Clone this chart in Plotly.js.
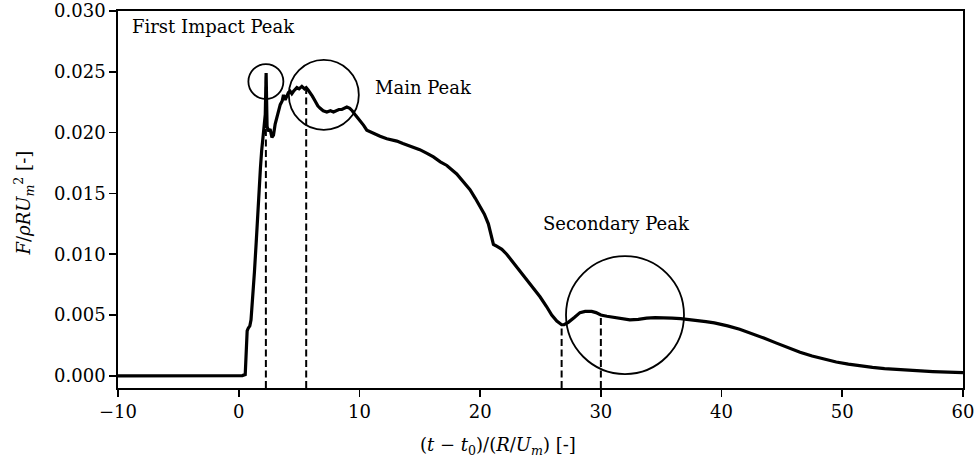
<!DOCTYPE html>
<html>
<head>
<meta charset="utf-8">
<script src="https://cdn.plot.ly/plotly-3.0.1.min.js"></script>
<style>
  html, body { margin: 0; padding: 0; background: #ffffff; }
  #chart { width: 979px; height: 462px; }
</style>
</head>
<body>
<div id="chart"></div>
<script>
// Non-dimensional time (t - t0)/(R/Um)
const time = [
  -10, 0.30, 0.54, 0.62, 0.70, 0.78, 0.92, 1.02, 1.15, 1.30, 1.45, 1.60, 1.72, 1.80, 1.90, 2.00, 2.12, 2.20,
  2.27, 2.31, 2.35, 2.47, 2.60, 2.75, 2.88, 3.02, 3.15, 3.30, 3.44, 3.60, 3.71, 3.85, 3.99, 4.12, 4.26,
  4.40, 4.54, 4.68, 4.82, 5.00, 5.23, 5.45, 5.59, 5.75, 5.92, 6.10, 6.33, 6.55, 6.75, 7.00, 7.30, 7.60,
  7.85, 8.10, 8.30, 8.54, 8.75, 8.96, 9.20, 9.40, 9.70, 10.06, 10.35, 10.61, 11.03, 11.40, 11.71, 12.27,
  12.70, 13.10, 13.60, 14.20, 15.00, 15.60, 16.13, 16.70, 17.24, 18.06, 18.60, 19.16, 19.60, 19.99,
  20.35, 20.68, 20.90, 21.01, 21.10, 21.30, 21.51, 21.80, 22.20, 22.75, 23.30, 23.86, 24.40, 24.96,
  25.50, 25.93, 26.35, 26.75, 26.95, 27.30, 27.80, 28.27, 28.70, 29.24, 29.60, 30.00, 30.50, 31.03,
  31.70, 32.40, 33.10, 33.79, 34.50, 35.20, 35.90, 36.60, 37.30, 38.00, 38.70, 39.40, 40.00, 40.50,
  41.50, 42.50, 43.50, 44.50, 45.50, 46.50, 47.50, 48.50, 49.50, 50.50, 51.50, 52.50, 53.50, 54.50,
  55.50, 56.50, 57.50, 58.80, 60.00
];

// Non-dimensional force F/(rho R Um^2)
const force = [
  0.0, 0.00002, 0.0001, 0.0016, 0.0037, 0.0039, 0.0041, 0.0046, 0.0062, 0.0085, 0.0110, 0.0140, 0.0165,
  0.0171, 0.0185, 0.0196, 0.0205, 0.0215,
  0.0249, 0.0215, 0.0205, 0.0201, 0.0203, 0.0196, 0.0198, 0.0207, 0.0212, 0.0218, 0.0223, 0.0226, 0.0231,
  0.0227, 0.0230, 0.0233, 0.0234, 0.0232, 0.0234, 0.0236, 0.0237, 0.0236, 0.0238, 0.0236, 0.0237,
  0.0235, 0.0233, 0.0230, 0.0226, 0.0222, 0.0220, 0.0218, 0.0217, 0.0218, 0.0217, 0.0218, 0.0219,
  0.0219, 0.0220, 0.0221, 0.0220, 0.0218, 0.0214, 0.0210, 0.0206, 0.0202, 0.0200, 0.0198, 0.0197,
  0.0195, 0.0194, 0.0193, 0.0191, 0.0189, 0.0186, 0.0183, 0.0180, 0.0176, 0.0173, 0.0166, 0.0160,
  0.0153, 0.0146, 0.0139, 0.0133, 0.0125, 0.0117, 0.0112, 0.0108, 0.0107, 0.0106, 0.0104, 0.0100,
  0.0093, 0.0086, 0.0079, 0.0072, 0.0065, 0.0057, 0.0050, 0.0045, 0.0042, 0.0042, 0.0044, 0.0048,
  0.0052, 0.0053, 0.0053, 0.0052, 0.0050, 0.0049, 0.0048, 0.0047, 0.0046, 0.00465, 0.00475, 0.00478,
  0.00478, 0.00475, 0.00470, 0.00463, 0.00455, 0.00446, 0.00435, 0.00423, 0.00411,
  0.00383, 0.00349, 0.00311, 0.00271, 0.00231, 0.00194, 0.00163, 0.00136, 0.00114, 0.00096, 0.00081,
  0.00069, 0.00059, 0.00051, 0.00045, 0.00040, 0.00035, 0.00030, 0.00027
];

// Characteristic instants (dashed markers) and the force reached there
const peakTimes = [2.25, 5.59, 26.75, 30.0];
const peakForces = [0.0249, 0.0237, 0.0042, 0.0050];

// Highlight rings around the peaks
const ringTimes = [2.25, 7.05, 32.0];
const ringForces = [0.0242, 0.0231, 0.0050];

// Peak labels
const labelTexts = ['First Impact Peak', 'Main Peak', 'Secondary Peak'];
const labelTimes = [-9.0, 11.13, 25.04];
const labelForces = [0.0287, 0.0237, 0.0125];

const xTicks = [-10, 0, 10, 20, 30, 40, 50, 60];
const yTicks = [0.000, 0.005, 0.010, 0.015, 0.020, 0.025, 0.030];

const yBottom = -0.001;
const serif = '"DejaVu Serif", "Liberation Serif", serif';

// Vertical dashed segments from the lower axis up to each peak
const dashX = [], dashY = [];
peakTimes.forEach((t, i) => {
  dashX.push(t, t, null);
  dashY.push(yBottom, peakForces[i], null);
});

const traces = [
  {
    x: time, y: force, type: 'scatter', mode: 'lines',
    line: { color: '#000000', width: 3.2 },
    hoverinfo: 'skip', showlegend: false
  },
  {
    x: dashX, y: dashY, type: 'scatter', mode: 'lines',
    line: { color: '#000000', width: 2, dash: '7px,3.5px' },
    hoverinfo: 'skip', showlegend: false
  },
  {
    x: ringTimes, y: ringForces, type: 'scatter', mode: 'markers',
    marker: {
      symbol: 'circle-open', size: [35, 70, 118], color: '#000000', opacity: 1,
      line: { color: '#000000', width: 1.8 }
    },
    cliponaxis: false,
    hoverinfo: 'skip', showlegend: false
  }
];

const annotations = labelTexts.map((txt, i) => ({
  text: txt, x: labelTimes[i], y: labelForces[i], xref: 'x', yref: 'y',
  xanchor: 'left', yanchor: 'middle', showarrow: false,
  font: { family: serif, size: 18, color: '#000000' }
}));

annotations.push({
  text: '(<i>t</i> − <i>t</i><sub>0</sub>)/(<i>R</i>/<i>U</i><sub><i>m</i></sub>) [-]',
  xref: 'paper', yref: 'paper', x: 0.4497, y: -0.155,
  xanchor: 'center', yanchor: 'middle', showarrow: false,
  font: { family: serif, size: 18, color: '#000000' }
});
annotations.push({
  text: '<i>F</i>/<i>ρRU</i><sub><i>m</i></sub><sup>2</sup> [-]',
  xref: 'paper', yref: 'paper', x: -0.111, y: 0.49,
  xanchor: 'center', yanchor: 'middle', textangle: -90, showarrow: false,
  font: { family: serif, size: 18, color: '#000000' }
});

const axisCommon = {
  showgrid: false, zeroline: false,
  showline: true, linecolor: '#000000', linewidth: 1.8, mirror: true,
  ticks: 'outside', ticklen: 7, tickwidth: 1.6, tickcolor: '#000000',
  tickfont: { family: serif, size: 18, color: '#000000' }
};

const layout = {
  width: 979, height: 462,
  margin: { l: 118, r: 16, t: 11, b: 74 },
  paper_bgcolor: '#ffffff', plot_bgcolor: '#ffffff',
  xaxis: Object.assign({}, axisCommon, {
    range: [-10, 60], tickmode: 'array', tickvals: xTicks,
    ticktext: xTicks.map(v => v < 0 ? '−' + Math.abs(v) : String(v))
  }),
  yaxis: Object.assign({}, axisCommon, {
    range: [yBottom, 0.030], tickmode: 'array', tickvals: yTicks,
    ticktext: yTicks.map(v => v.toFixed(3))
  }),
  annotations: annotations,
  showlegend: false
};

Plotly.newPlot('chart', traces, layout, { staticPlot: true, displayModeBar: false });
</script>
</body>
</html>
